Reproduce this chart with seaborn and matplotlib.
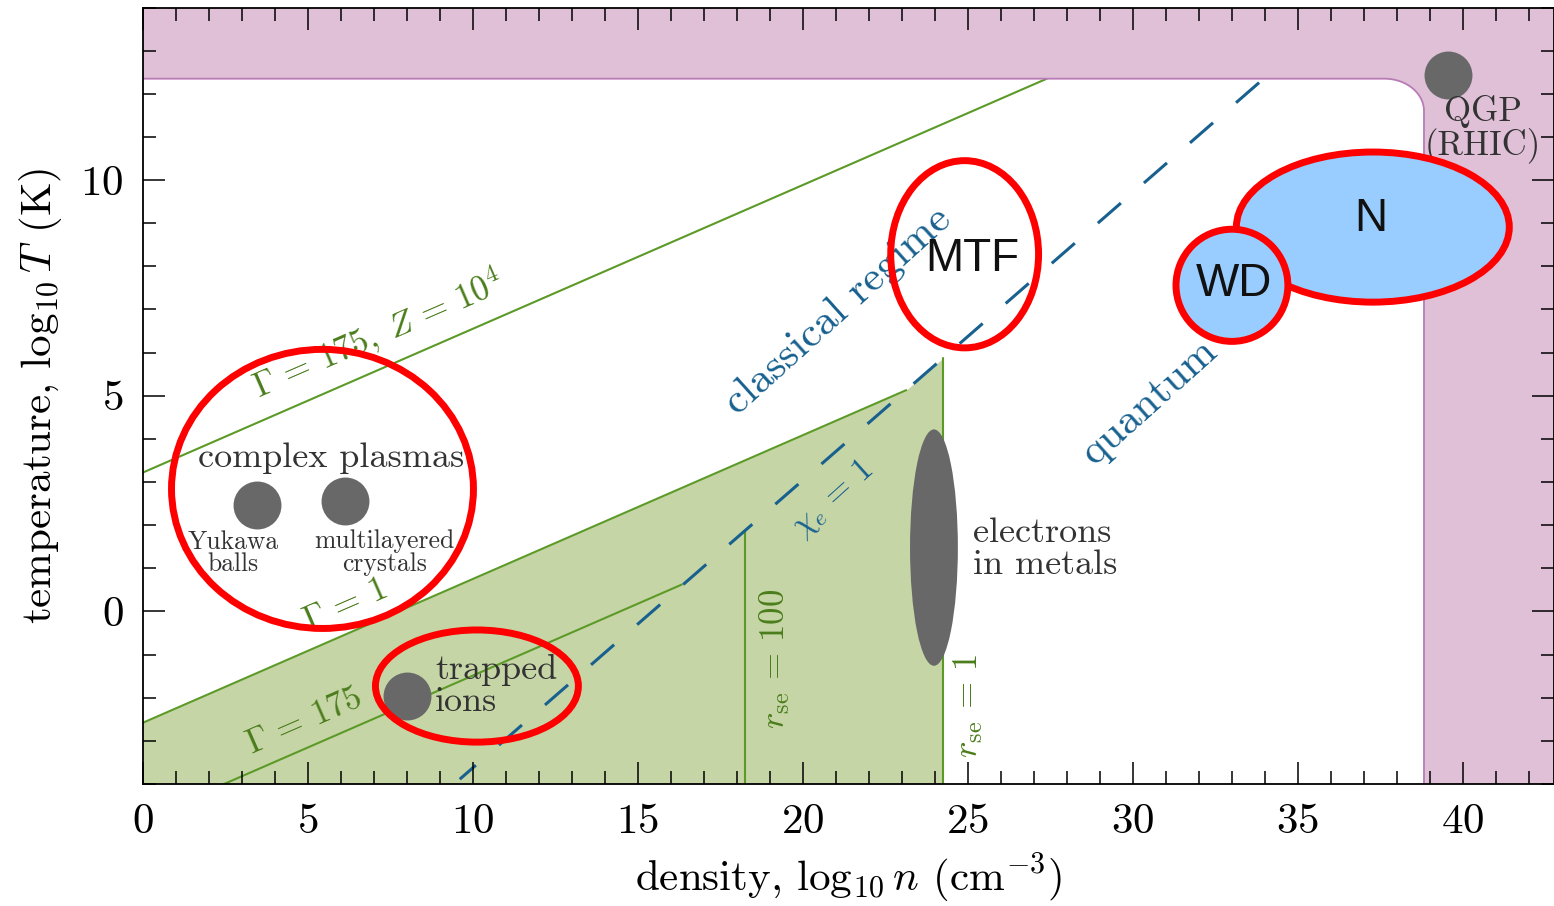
import numpy as np
import matplotlib
matplotlib.use("Agg")
import matplotlib.pyplot as plt
from matplotlib.patches import Ellipse, Polygon
from matplotlib.ticker import MultipleLocator
import seaborn as sns

# ---------------------------------------------------------------- data
# axis ranges (log10 n in cm^-3, log10 T in K)
N_RANGE = (0.0, 42.76)
T_RANGE = (-4.0, 14.0)

# coupling lines  log T = log n / 3 + offset
gamma_labels = [r"$\Gamma\,=\,1$", r"$\Gamma\,=\,175$", r"$\Gamma\,=\,175,\;Z\,=\,10^4$"]
gamma_offsets = [-2.58, -4.82, 3.22]
gamma_n_start = [0.0, 2.42, 0.0]
gamma_n_end = [23.13, 16.33, 27.39]

# electron degeneracy line  chi_e = 1 :  log T = 2/3 log n + offset
chi_slope = 2.0 / 3.0
chi_offset = -10.29
chi_n_range = [9.6, 33.96]

# Brueckner parameter lines (vertical)
rse_labels = [r"$r_{\rm se}\,=\,100$", r"$r_{\rm se}\,=\,1$"]
rse_log_n = [18.24, 24.24]

# quark-gluon plasma boundary
qgp_T = 12.35
qgp_n = 38.82
qgp_corner = (1.2, 0.75)

# example systems drawn as dots
dot_names = ["Yukawa balls", "multilayered crystals", "trapped ions", "QGP"]
dot_log_n = [3.45, 6.12, 8.0, 39.55]
dot_log_T = [2.46, 2.55, -1.97, 12.44]

# electrons in metals (elongated region)
metal_center = (23.97, 1.48)
metal_size = (1.45, 5.48)

# highlighted regions: name, centre n, centre T, width, height
hl_names = ["complex", "trapped", "MTF", "N", "WD"]
hl_n = [5.44, 10.12, 24.9, 37.27, 33.0]
hl_T = [2.84, -1.73, 8.28, 8.91, 7.56]
hl_w = [9.15, 6.15, 4.48, 8.27, 3.39]
hl_h = [6.47, 2.60, 4.34, 3.48, 2.60]
hl_filled = [False, False, False, True, True]

# ---------------------------------------------------------------- style
GREEN_FILL = "#c6d5a6"
GREEN_LINE = "#5c9a28"
GREEN_TEXT = "#4b7d1c"
BLUE = "#18618f"
PINK = "#dfc0d6"
PINK_EDGE = "#b97bb6"
GREY = "#686868"
TEXT = "#333333"
RED = "#ff0000"
LIGHT_BLUE = "#99ccff"

sns.set_theme(style="ticks")
plt.rcParams["font.family"] = ["cmr10", "DejaVu Serif"]
plt.rcParams["mathtext.fontset"] = "cm"
plt.rcParams["axes.formatter.use_mathtext"] = True
plt.rcParams["axes.unicode_minus"] = False

fig, ax = plt.subplots(figsize=(15.54, 9.06), dpi=100)
fig.subplots_adjust(left=0.092, right=1.0, bottom=0.1347, top=0.9917)
ax.set_xlim(*N_RANGE)
ax.set_ylim(*T_RANGE)

# ---------------------------------------------------------------- green strongly-coupled region
n_grid = np.linspace(N_RANGE[0], rse_log_n[1], 500)
upper = np.maximum(n_grid / 3 + gamma_offsets[0], chi_slope * n_grid + chi_offset)
ax.fill_between(n_grid, T_RANGE[0], upper, color=GREEN_FILL, lw=0, zorder=1)

# coupling lines
for off, n0, n1 in zip(gamma_offsets, gamma_n_start, gamma_n_end):
    xs = np.array([n0, n1])
    sns.lineplot(x=xs, y=xs / 3 + off, color=GREEN_LINE, lw=1.5, ax=ax,
                 sort=False, estimator=None, zorder=2)

# r_se lines rise from the bottom up to the degeneracy line
for xv in rse_log_n:
    sns.lineplot(x=[xv, xv], y=[T_RANGE[0], chi_slope * xv + chi_offset],
                 color=GREEN_LINE, lw=1.5, ax=ax, sort=False, estimator=None, zorder=2)

# degeneracy line
xs = np.array(chi_n_range)
sns.lineplot(x=xs, y=chi_slope * xs + chi_offset, color=BLUE, lw=2.2,
             linestyle=(3, (10, 10)), ax=ax, sort=False, estimator=None, zorder=3)

# ---------------------------------------------------------------- QGP band (L-shape with rounded inner corner)
rx, ry = qgp_corner
theta = np.linspace(0, np.pi / 2, 40)
arc_x = (qgp_n - rx) + rx * np.cos(theta)
arc_y = (qgp_T - ry) + ry * np.sin(theta)
edge_x = np.concatenate([[qgp_n], arc_x, [N_RANGE[0]]])
edge_y = np.concatenate([[T_RANGE[0]], arc_y, [qgp_T]])
verts = list(zip(edge_x, edge_y)) + [(N_RANGE[0], T_RANGE[1]), (N_RANGE[1], T_RANGE[1]),
                                     (N_RANGE[1], T_RANGE[0])]
ax.add_patch(Polygon(verts, closed=True, facecolor=PINK, edgecolor="none", zorder=4))
ax.plot(edge_x, edge_y, color=PINK_EDGE, lw=1.3, zorder=4.1)

# ---------------------------------------------------------------- systems
sns.scatterplot(x=dot_log_n, y=dot_log_T, s=1190, color=GREY, linewidth=0,
                ax=ax, zorder=5, legend=False)
ax.add_patch(Ellipse(metal_center, *metal_size, facecolor=GREY, edgecolor="none", zorder=5))

# ---------------------------------------------------------------- labels
ax.text(5.7, 3.55, "complex plasmas", fontsize=26, color=TEXT, ha="center", va="center", zorder=6)
ax.text(2.73, 1.35, "Yukawa\nballs", fontsize=18.5, color=TEXT, ha="center", va="center",
        linespacing=0.95, zorder=6)
ax.text(7.33, 1.37, "multilayered\ncrystals", fontsize=18.5, color=TEXT, ha="center", va="center",
        linespacing=0.95, zorder=6)
ax.text(8.85, -1.72, "trapped\nions", fontsize=26, color=TEXT, ha="left", va="center",
        linespacing=1.0, zorder=6)
ax.text(25.15, 1.44, "electrons\nin metals", fontsize=26, color=TEXT, ha="left", va="center",
        linespacing=1.0, zorder=6)
ax.text(40.6, 11.18, "QGP\n(RHIC)", fontsize=25, color=TEXT, ha="center", va="center",
        linespacing=1.0, zorder=6)

ax.text(21.06, 6.96, "classical regime", fontsize=31, color=BLUE, rotation=42,
        ha="center", va="center", rotation_mode="anchor", zorder=6)
ax.text(30.5, 4.87, "quantum", fontsize=31, color=BLUE, rotation=42,
        ha="center", va="center", rotation_mode="anchor", zorder=6)
ax.text(20.9, 2.6, r"$\chi_e\,=\,1$", fontsize=24, color=BLUE, rotation=42,
        ha="center", va="center", rotation_mode="anchor", zorder=6)

gamma_text_pos = [(6.12, 0.14), (4.9, -2.55), (7.12, 6.43)]
for lab, (tx, ty) in zip(gamma_labels, gamma_text_pos):
    ax.text(tx, ty, lab, fontsize=25, color=GREEN_TEXT, rotation=23.5,
            ha="center", va="center", rotation_mode="anchor", zorder=6)

rse_text_pos = [(19.15, -1.09), (25.0, -2.2)]
for lab, (tx, ty) in zip(rse_labels, rse_text_pos):
    ax.text(tx, ty, lab, fontsize=25, color=GREEN_TEXT, rotation=90,
            ha="center", va="center", rotation_mode="anchor", zorder=6)

# ---------------------------------------------------------------- highlighted regions
for name, cx, cy, w, h, filled in zip(hl_names, hl_n, hl_T, hl_w, hl_h, hl_filled):
    ax.add_patch(Ellipse((cx, cy), w, h, facecolor=LIGHT_BLUE if filled else "none",
                         edgecolor=RED, lw=5, zorder=7))

sans = ["Liberation Sans", "DejaVu Sans"]
ax.text(25.12, 8.17, "MTF", fontsize=33, family=sans, color="#111111",
        ha="center", va="center", zorder=8)
ax.text(33.06, 7.59, "WD", fontsize=33, family=sans, color="#111111",
        ha="center", va="center", zorder=8)
ax.text(37.2, 9.1, "N", fontsize=33, family=sans, color="#111111",
        ha="center", va="center", zorder=8)

# ---------------------------------------------------------------- axes
ax.xaxis.set_major_locator(MultipleLocator(5))
ax.xaxis.set_minor_locator(MultipleLocator(1))
ax.yaxis.set_major_locator(MultipleLocator(5))
ax.yaxis.set_minor_locator(MultipleLocator(1))
ax.tick_params(which="both", direction="in", top=True, right=True, color="black",
               width=1.1, labelsize=31, labelcolor="black")
ax.tick_params(which="major", length=16, pad=14)
ax.tick_params(which="minor", length=9.5)
ax.xaxis.set_zorder(9)
ax.yaxis.set_zorder(9)
for sp in ax.spines.values():
    sp.set_color("black")
    sp.set_linewidth(1.3)
    sp.set_zorder(9)

ax.set_xlabel(r"density, $\log_{10} n$ (cm$^{-3}$)", fontsize=31, color="black", labelpad=8)
ax.set_ylabel(r"temperature, $\log_{10} T$ (K)", fontsize=31, color="black", labelpad=12)

fig.savefig("out.png", dpi=100)
